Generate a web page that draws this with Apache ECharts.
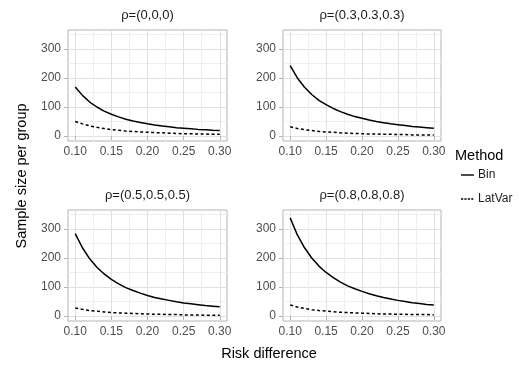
<!DOCTYPE html>
<html>
<head>
<meta charset="utf-8">
<script src="https://cdn.jsdelivr.net/npm/echarts@6/dist/echarts.min.js"></script>
<style>
	html,body{margin:0;padding:0;background:#fff;}
	#chart1{width:519px;height:379px;}
</style>
</head>
<body>
<div id="chart1"></div>
<script>
// risk difference, read every 0.01
var riskDiff=[0.10,0.11,0.12,0.13,0.14,0.15,0.16,0.17,0.18,0.19,0.20,0.21,0.22,0.23,0.24,0.25,0.26,0.27,0.28,0.29,0.30];
var panelTitles=['ρ=(0,0,0)','ρ=(0.3,0.3,0.3)','ρ=(0.5,0.5,0.5)','ρ=(0.8,0.8,0.8)'];
var binData=[
	[169,140,117,100,86,75,66,58,52,47,42,38,35,32,29,27,25,23,22,20,19],
	[242,200,168,143,123,108,95,84,75,67,61,55,50,46,42,39,36,33,31,29,27],
	[284,235,197,168,145,126,111,98,88,79,71,64,59,54,49,45,42,39,36,34,32],
	[338,279,235,200,172,150,132,117,104,94,85,77,70,64,59,54,50,46,43,40,38]
];
var latVarData=[
	[50,42,35,30,26,22,20,17,16,14,13,12,11,10,9,8,8,7,7,6,6],
	[32,26,22,19,16,14,13,11,10,9,8,7,7,6,6,5,5,4,4,4,4],
	[28,23,19,17,14,12,11,10,9,8,7,6,6,5,5,4,4,4,3,3,3],
	[38,31,26,22,19,17,15,13,12,11,10,9,8,7,7,6,6,5,5,5,4]
];
var xTicks=[0.10,0.15,0.20,0.25,0.30];
var xMinor=[0.125,0.175,0.225,0.275];
var yTicks=[0,100,200,300];
var yMinor=[50,150,250,350];
var legendNames=['Bin','LatVar'];

window.onload=function(){
	chart1();
};

function pairs(vals){
	var out=[];
	for(var i=0;i<riskDiff.length;i++){
		out.push([riskDiff[i],vals[i]]);
	}
	return out;
}

function chart1(){
	var myChart=echarts.init(document.getElementById('chart1'));
	var boxes=[
		{left:68,top:30,width:159,height:111},
		{left:283,top:30,width:158,height:111},
		{left:68,top:210,width:159,height:111},
		{left:283,top:210,width:158,height:111}
	];
	var grids=[],xAxes=[],yAxes=[],series=[],graphics=[];
	var labelFont={color:'#4D4D4D',fontSize:12,fontFamily:'Liberation Sans'};
	boxes.forEach(function(b,i){
		grids.push({
			left:b.left,top:b.top,width:b.width,height:b.height,
			show:true,borderColor:'#B3B3B3',borderWidth:1,
			containLabel:false,outerBoundsMode:'none'
		});
		// major x
		xAxes.push({
			type:'value',gridIndex:i,min:0.09,max:0.31,
			axisLine:{show:false},
			axisTick:{show:true,length:4,customValues:xTicks,lineStyle:{color:'#B3B3B3'}},
			axisLabel:Object.assign({customValues:xTicks,margin:5,formatter:function(v){return v.toFixed(2);}},labelFont),
			splitLine:{show:true,lineStyle:{color:'#E0E0E0',width:1}}
		});
		// minor x
		xAxes.push({
			type:'value',gridIndex:i,min:0.09,max:0.31,
			axisLine:{show:false},
			axisTick:{show:false,customValues:xMinor},
			axisLabel:{show:false,customValues:xMinor},
			splitLine:{show:true,lineStyle:{color:'#EEEEEE',width:1}}
		});
		yAxes.push({
			type:'value',gridIndex:i,min:-17,max:365,
			axisLine:{show:false},
			axisTick:{show:true,length:4,customValues:yTicks,lineStyle:{color:'#B3B3B3'}},
			axisLabel:Object.assign({customValues:yTicks,margin:7},labelFont),
			splitLine:{show:true,lineStyle:{color:'#E0E0E0',width:1}}
		});
		yAxes.push({
			type:'value',gridIndex:i,min:-17,max:365,
			axisLine:{show:false},
			axisTick:{show:false,customValues:yMinor},
			axisLabel:{show:false,customValues:yMinor},
			splitLine:{show:true,lineStyle:{color:'#EEEEEE',width:1}}
		});
		series.push({
			name:'Bin',type:'line',xAxisIndex:i*2,yAxisIndex:i*2,
			data:pairs(binData[i]),smooth:false,
			symbol:'none',z:5,
			lineStyle:{color:'#000',width:1.5,type:'solid'},
			itemStyle:{color:'#000'}
		});
		series.push({
			name:'LatVar',type:'line',xAxisIndex:i*2,yAxisIndex:i*2,
			data:pairs(latVarData[i]),smooth:false,
			symbol:'none',z:5,
			lineStyle:{color:'#000',width:1.5,type:[3,2.5]},
			itemStyle:{color:'#000'}
		});
		graphics.push({
			type:'text',x:b.left+b.width/2,y:b.top-15,
			style:{text:panelTitles[i],fill:'#1A1A1A',fontSize:13,fontFamily:'Liberation Sans',align:'center',verticalAlign:'middle'}
		});
	});
	graphics.push({
		type:'text',x:22,y:176,rotation:Math.PI/2,
		style:{text:'Sample size per group',fill:'#000',fontSize:14.5,fontFamily:'Liberation Sans',align:'center',verticalAlign:'middle'}
	});
	graphics.push({
		type:'text',x:269,y:354,
		style:{text:'Risk difference',fill:'#000',fontSize:14.5,fontFamily:'Liberation Sans',align:'center',verticalAlign:'middle'}
	});
	// legend: title + keys
	graphics.push({
		type:'text',x:455,y:156,
		style:{text:'Method',fill:'#000',fontSize:14.5,fontFamily:'Liberation Sans',align:'left',verticalAlign:'middle'}
	});
	legendNames.forEach(function(n,k){
		var ly=175+k*24;
		graphics.push({
			type:'line',shape:{x1:461,y1:ly,x2:474,y2:ly},
			style:{stroke:'#000',lineWidth:1.4,lineDash:k==0?null:[2.2,1.2]}
		});
		graphics.push({
			type:'text',x:478,y:ly,
			style:{text:n,fill:'#1A1A1A',fontSize:12,fontFamily:'Liberation Sans',align:'left',verticalAlign:'middle'}
		});
	});

	var option={
		animation:false,
		grid:grids,
		xAxis:xAxes,
		yAxis:yAxes,
		series:series,
		graphic:graphics
	};
	myChart.setOption(option);
	window.addEventListener("resize",function(){
		myChart.resize();
	});
}
</script>
</body>
</html>
